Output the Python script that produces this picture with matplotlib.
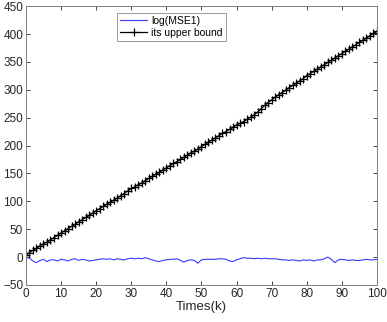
import matplotlib
matplotlib.use("Agg")
import matplotlib.pyplot as plt
import numpy as np

# sample index k = 0..100
k = np.arange(0, 101)

log_mse1 = [
    0, -2, -7, -10, -6, -4, -8, -5, -5, -7,
    -4, -5, -7, -4, -3, -6, -4, -5, -7, -6,
    -5, -4, -3, -4, -3, -5, -3, -4, -5, -3,
    -2, -3, -2, -3, -1, -3, -5, -7, -8, -6,
    -5, -4, -4, -3, -6, -9, -6, -5, -6, -11,
    -5, -4, -4, -4, -4, -3, -3, -4, -7, -8,
    -5, -3, -1, -2, -2, -3, -2, -3, -2, -3,
    -3, -3, -4, -5, -5, -6, -5, -6, -7, -5,
    -6, -5, -7, -5, -5, -3, 0, -4, -10, -5,
    -4, -5, -6, -5, -6, -6, -5, -4, -5, -5,
    -4,
]

upper_bound = [
    4, 8, 12, 16, 20, 24, 27, 31, 35, 39,
    43, 47, 51, 55, 59, 63, 67, 71, 75, 79,
    83, 87, 91, 95, 98, 102, 106, 110, 114, 119,
    123, 126, 130, 133, 137, 141, 145, 149, 152, 156,
    160, 164, 168, 171, 175, 179, 183, 187, 190, 194,
    198, 202, 206, 210, 214, 218, 222, 225, 229, 233,
    237, 240, 243, 247, 251, 255, 260, 266, 272, 277,
    282, 287, 291, 295, 299, 304, 308, 312, 316, 320,
    325, 329, 333, 337, 341, 345, 349, 353, 357, 361,
    365, 369, 373, 377, 381, 385, 389, 393, 397, 401,
    405,
]

x_ticks = np.arange(0, 101, 10)
y_ticks = np.arange(-50, 451, 50)

plt.rcParams["font.family"] = ["Liberation Sans", "DejaVu Sans"]

fig = plt.figure(figsize=(3.87, 3.22), dpi=100)
ax = fig.add_axes([0.067, 0.115, 0.907, 0.866])

ax.plot(k, log_mse1, color="#3a3aff", lw=0.8, label="log(MSE1)")
ax.plot(k, upper_bound, color="black", lw=0.9, marker="+", ms=6,
        mew=0.9, label="its upper bound")

ax.set_xlim(0, 100)
ax.set_ylim(-50, 450)
ax.set_xticks(x_ticks)
ax.set_yticks(y_ticks)
ax.tick_params(direction="in", length=3, width=0.6, labelsize=8.5,
               top=True, right=True, colors="#262626", pad=2)
for s in ax.spines.values():
    s.set_color("#808080")
    s.set_linewidth(0.7)
ax.set_xlabel("Times(k)", fontsize=9.5, labelpad=1, color="#262626")

leg = ax.legend(loc="upper left", bbox_to_anchor=(0.259, 0.977),
                fontsize=7.5, frameon=True, fancybox=False,
                handlelength=2.6, borderpad=0.3, labelspacing=0.2,
                handletextpad=0.4, borderaxespad=0)
leg.get_frame().set_edgecolor("#808080")
leg.get_frame().set_linewidth(0.7)

fig.savefig("out.png", dpi=100)
